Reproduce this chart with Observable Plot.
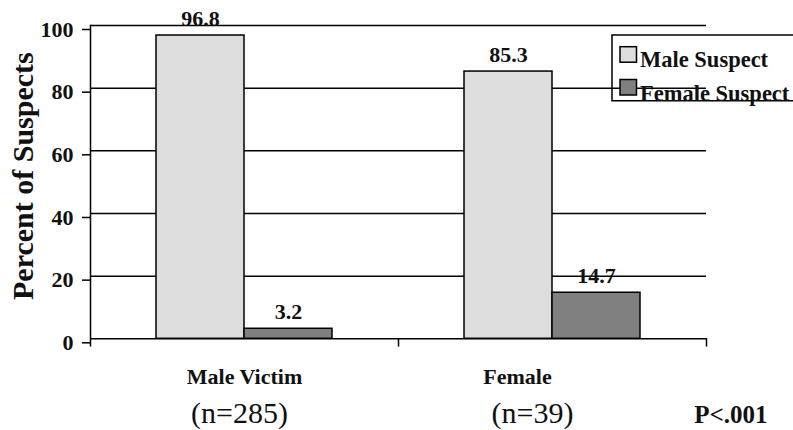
<!DOCTYPE html>
<html>
<head>
<meta charset="utf-8">
<script src="https://cdn.jsdelivr.net/npm/d3@7"></script>
<script src="https://cdn.jsdelivr.net/npm/@observablehq/plot@0.6"></script>
<style>
  html, body { margin: 0; padding: 0; background: #fff; }
  #wrap { position: relative; width: 793px; height: 430px; overflow: hidden; }
  #overlay { position: absolute; left: 0; top: 0; pointer-events: none; }
</style>
</head>
<body>
<div id="wrap"></div>
<script>
// ---- data ----
const victims = ["Male Victim", "Female"];
const sampleSizes = ["(n=285)", "(n=39)"];
const suspects = ["Male Suspect", "Female Suspect"];
const maleSuspectPct = [96.8, 85.3];
const femaleSuspectPct = [3.2, 14.7];
const yTicks = [0, 20, 40, 60, 80, 100];
const yLabel = "Percent of Suspects";
const pValue = "P<.001";
const suspectColors = ["#dddddd", "#808080"];

// ---- tables ----
const rows = victims.flatMap((v, i) => [
  {victim: v, suspect: suspects[0], pct: maleSuspectPct[i]},
  {victim: v, suspect: suspects[1], pct: femaleSuspectPct[i]}
]);
const cats = victims.map((v, i) => ({victim: v, n: sampleSizes[i]}));

const W = 793, H = 430, mT = 25, mB = 91.7, mL = 90, mR = 87;
const innerH = H - mT - mB;
const FONT = "Liberation Serif";

const chart = Plot.plot({
  width: W, height: H,
  marginTop: mT, marginBottom: mB, marginLeft: mL, marginRight: mR,
  fx: {domain: victims, padding: 0, axis: null},
  x: {domain: suspects, paddingInner: 0, paddingOuter: 0.75, axis: null},
  y: {domain: [0, 100], axis: null},
  color: {domain: suspects, range: suspectColors},
  style: {fontFamily: FONT, color: "black", background: "white", overflow: "visible"},
  marks: [
    Plot.gridY(yTicks.filter(t => t > 0), {stroke: "black", strokeOpacity: 1, strokeWidth: 1.5}),
    Plot.barY(rows, {fx: "victim", x: "suspect", y: "pct", fill: "suspect", stroke: "black", strokeWidth: 1.5, insetLeft: 0, insetRight: 0}),
    Plot.text(rows, {fx: "victim", x: "suspect", y: "pct", text: d => d.pct.toFixed(1), dy: -10, lineAnchor: "bottom", fontWeight: "bold", fontSize: 22, fill: "#111"}),
    Plot.ruleY([0], {stroke: "black", strokeWidth: 1.5}),
    Plot.axisY(yTicks, {anchor: "left", tickSize: 8, tickPadding: 9, fontSize: 22, fontWeight: "bold", strokeWidth: 1.5, label: null, dy: 4, stroke: "black", fill: "#111"}),
    Plot.frame({anchor: "left", facet: "super", insetBottom: -7, stroke: "black", strokeWidth: 1.5}),
    Plot.frame({anchor: "right", insetTop: innerH, insetBottom: -7, stroke: "black", strokeWidth: 1.5}),
    Plot.text([cats[0]], {fx: "victim", text: "victim", frameAnchor: "bottom", dy: 44.7, lineAnchor: "bottom", fontWeight: "bold", fontSize: 22, fill: "#111"}),
    Plot.text([cats[1]], {fx: "victim", text: "victim", frameAnchor: "bottom", dy: 44.7, dx: -35, lineAnchor: "bottom", fontWeight: "bold", fontSize: 22, fill: "#111"}),
    Plot.text([cats[0]], {fx: "victim", text: "n", frameAnchor: "bottom", dy: 84.5, dx: -5, lineAnchor: "bottom", fontSize: 30, fill: "#111"}),
    Plot.text([cats[1]], {fx: "victim", text: "n", frameAnchor: "bottom", dy: 84.5, dx: -20, lineAnchor: "bottom", fontSize: 30, fill: "#111"}),
    Plot.text([{victim: victims[1], p: pValue}], {fx: "victim", text: "p", frameAnchor: "bottom-right", dy: 84.5, dx: 61, textAnchor: "end", lineAnchor: "bottom", fontWeight: "bold", fontSize: 25, fill: "#111"}),
    Plot.text([yLabel], {facet: "super", text: d => d, frameAnchor: "left", textAnchor: "middle", lineAnchor: "middle", rotate: -90, dx: -67.5, dy: -6, fontWeight: "bold", fontSize: 30, fill: "#111"})
  ]
});

const wrap = document.getElementById("wrap");
wrap.appendChild(chart);

// ---- legend (overlay, overlapping the plot like the original) ----
const lg = d3.select(wrap).append("svg")
  .attr("id", "overlay").attr("width", W).attr("height", H)
  .attr("font-family", FONT);
lg.append("path")
  .attr("d", "M793,35 H612 V100.7 H793")
  .attr("fill", "none").attr("stroke", "black").attr("stroke-width", 1.5);
const items = lg.selectAll("g.item").data(suspects).join("g").attr("class", "item")
  .attr("transform", (d, i) => `translate(620,${i === 0 ? 46.7 : 79.5})`);
items.append("rect")
  .attr("width", 16.5).attr("height", 15.5)
  .attr("fill", (d, i) => suspectColors[i]).attr("stroke", "black").attr("stroke-width", 1.5);
items.append("text")
  .attr("x", 20).attr("y", (d, i) => i === 0 ? 20 : 21.5)
  .attr("font-size", 22.5).attr("font-weight", "bold").attr("fill", "#111")
  .text(d => d);
</script>
</body>
</html>
